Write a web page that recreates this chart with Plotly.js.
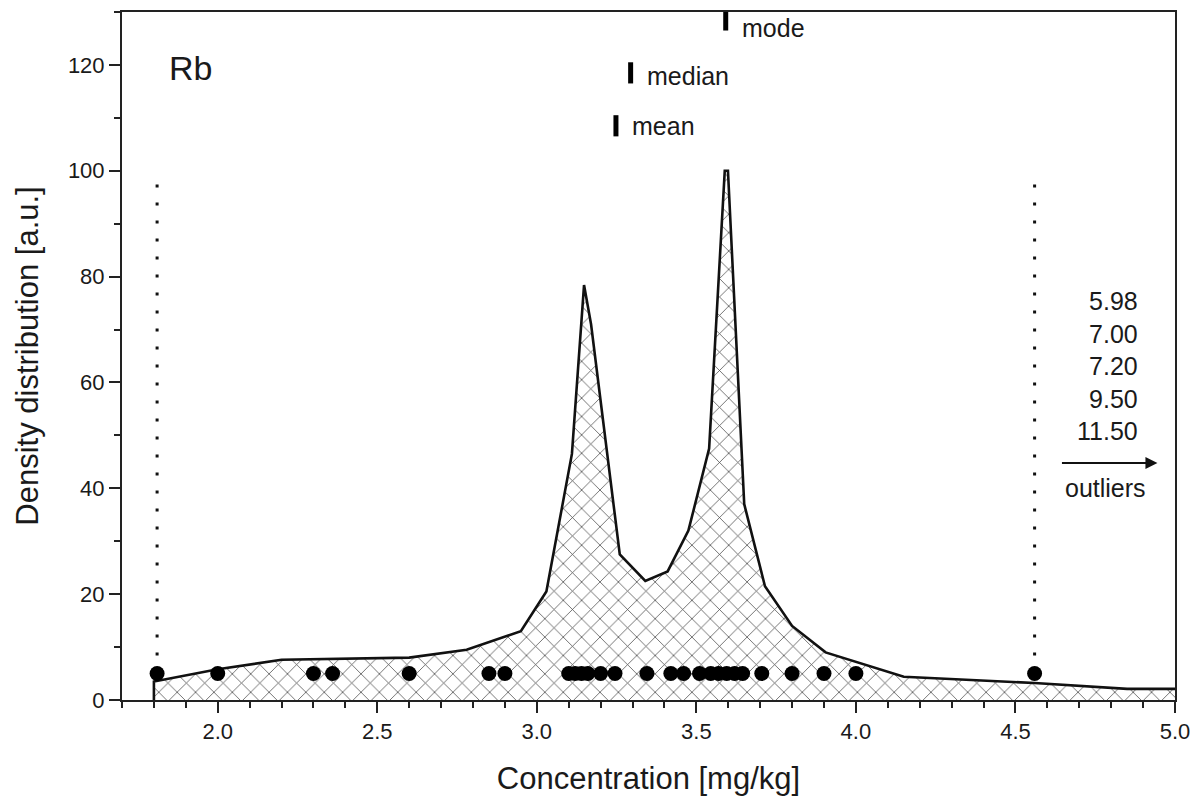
<!DOCTYPE html>
<html>
<head>
<meta charset="utf-8">
<script src="https://cdn.plot.ly/plotly-3.0.1.min.js"></script>
<style>html,body{margin:0;padding:0;background:#fff;}#chart{width:1203px;height:803px;}</style>
</head>
<body>
<div id="chart"></div>
<script>
// ---- data ----
const densityX = [1.8, 1.8, 2.0, 2.2, 2.6, 2.78, 2.95, 3.03, 3.11, 3.148, 3.17, 3.26, 3.34, 3.41, 3.475, 3.54, 3.589, 3.599, 3.65, 3.715, 3.8, 3.905, 4.15, 4.56, 4.85, 5.0];
const densityY = [0, 3.5, 5.8, 7.6, 8.0, 9.5, 13, 20.5, 46.5, 78.4, 71, 27.5, 22.5, 24.3, 32, 47.5, 100, 100, 37, 21.5, 14, 9, 4.4, 3.2, 2.1, 2.1];
const sampleX = [1.81, 2.0, 2.30, 2.36, 2.60, 2.85, 2.90, 3.10, 3.12, 3.14, 3.16, 3.20, 3.245, 3.345, 3.42, 3.46, 3.51, 3.545, 3.57, 3.595, 3.62, 3.645, 3.705, 3.80, 3.90, 4.00, 4.56];
const sampleLevel = 5;
const fenceX = [1.81, 4.56];
const fenceTop = 100;
const statNames = ['mean', 'median', 'mode'];
const statValues = [3.248, 3.294, 3.592];
const outlierValues = ['5.98', '7.00', '7.20', '9.50', '11.50'];
const elementName = 'Rb';
const xTickVals = [2.0, 2.5, 3.0, 3.5, 4.0, 4.5, 5.0];
const xTickText = ['2.0', '2.5', '3.0', '3.5', '4.0', '4.5', '5.0'];
const yTickVals = [0, 20, 40, 60, 80, 100, 120];

// ---- layout helpers ----
const FONT = 'Liberation Sans, Arial, Helvetica, sans-serif';
const TXT = '#1a1a1a';
const statLevels = [108.5, 118.5, 128.5];
const statTextShift = [0, -3, -8];

const traces = [];
traces.push({
  x: densityX, y: densityY, type: 'scatter', mode: 'lines',
  line: {color: '#111', width: 2.6},
  fill: 'tozeroy', fillcolor: 'white',
  fillpattern: {shape: 'x', size: 13, solidity: 0.11, fgcolor: '#444', bgcolor: 'white', fillmode: 'replace'},
  hoverinfo: 'skip', showlegend: false
});
fenceX.forEach(fx => {
  traces.push({
    x: [fx, fx], y: [sampleLevel, fenceTop], type: 'scatter', mode: 'lines',
    line: {color: '#111', width: 3, dash: '3px,15px'},
    hoverinfo: 'skip', showlegend: false
  });
});
traces.push({
  x: sampleX, y: sampleX.map(() => sampleLevel), type: 'scatter', mode: 'markers',
  marker: {color: '#000', size: 15},
  hoverinfo: 'skip', showlegend: false
});
statValues.forEach((v, i) => {
  traces.push({
    x: [v, v], y: [statLevels[i] - 2, statLevels[i] + 2], type: 'scatter', mode: 'lines',
    line: {color: '#000', width: 5}, cliponaxis: true,
    hoverinfo: 'skip', showlegend: false
  });
});

const annotations = [];
statValues.forEach((v, i) => {
  annotations.push({
    x: v, y: statLevels[i], xref: 'x', yref: 'y', text: statNames[i],
    showarrow: false, xanchor: 'left', yanchor: 'middle', xshift: 14, yshift: statTextShift[i],
    font: {family: FONT, size: 25, color: TXT}
  });
});
annotations.push({
  x: 1.84, y: 119.5, xref: 'x', yref: 'y', text: elementName, showarrow: false,
  xanchor: 'left', yanchor: 'middle', font: {family: FONT, size: 34, color: TXT}
});
annotations.push({
  x: 4.89, y: 63.1, xref: 'x', yref: 'y', text: outlierValues.join('<br>'), showarrow: false,
  xanchor: 'right', yanchor: 'middle', align: 'right', font: {family: FONT, size: 25, color: TXT}
});
annotations.push({
  x: 4.945, y: 44.8, xref: 'x', yref: 'y', ax: -97, ay: 0, text: '', showarrow: true,
  arrowhead: 2, arrowsize: 1.2, arrowwidth: 2, arrowcolor: '#111'
});
annotations.push({
  x: 4.781, y: 40.1, xref: 'x', yref: 'y', text: 'outliers', showarrow: false,
  xanchor: 'center', yanchor: 'middle', font: {family: FONT, size: 25, color: TXT}
});

const layout = {
  width: 1203, height: 803,
  margin: {l: 122, r: 28, t: 12, b: 103, pad: 0},
  paper_bgcolor: 'white', plot_bgcolor: 'white',
  font: {family: FONT, color: TXT},
  showlegend: false,
  xaxis: {
    range: [1.7, 5.0], tickmode: 'array', tickvals: xTickVals, ticktext: xTickText,
    ticks: 'outside', ticklen: 11, tickwidth: 2, tickcolor: '#222',
    minor: {dtick: 0.1, tick0: 0, ticks: 'outside', ticklen: 6, tickwidth: 2, tickcolor: '#222', showgrid: false},
    showline: true, linecolor: '#222', linewidth: 2, mirror: true,
    showgrid: false, zeroline: false,
    tickfont: {family: FONT, size: 22, color: TXT},
    title: {text: 'Concentration [mg/kg]', font: {family: FONT, size: 31, color: TXT}, standoff: 24}
  },
  yaxis: {
    range: [0, 130], tickmode: 'array', tickvals: yTickVals,
    ticks: 'outside', ticklen: 11, tickwidth: 2, tickcolor: '#222',
    minor: {dtick: 10, tick0: 0, ticks: 'outside', ticklen: 6, tickwidth: 2, tickcolor: '#222', showgrid: false},
    showline: true, linecolor: '#222', linewidth: 2, mirror: true,
    showgrid: false, zeroline: false,
    tickfont: {family: FONT, size: 22, color: TXT},
    title: {text: 'Density distribution [a.u.]', font: {family: FONT, size: 31, color: TXT}, standoff: 20}
  },
  annotations: annotations
};

Plotly.newPlot('chart', traces, layout, {staticPlot: true, displayModeBar: false});
</script>
</body>
</html>
